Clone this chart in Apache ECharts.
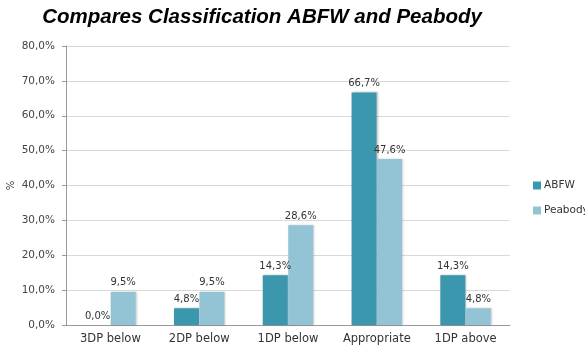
<!DOCTYPE html>
<html>
<head>
<meta charset="utf-8">
<script src="https://cdn.jsdelivr.net/npm/echarts@6/dist/echarts.min.js"></script>
<style>
  html, body { margin: 0; padding: 0; background: #fff; }
  #main { width: 585px; height: 358px; }
</style>
</head>
<body>
<div id="main"></div>
<script>
var categories = ['3DP below', '2DP below', '1DP below', 'Appropriate', '1DP above'];
var abfw = [0.0, 4.8, 14.3, 66.7, 14.3];
var peabody = [9.5, 9.5, 28.6, 47.6, 4.8];
var yTicks = [0, 10, 20, 30, 40, 50, 60, 70, 80];

function pct(v) {
  return Number(v).toFixed(1).replace('.', ',') + '%';
}

var chart = echarts.init(document.getElementById('main'));

var option = {
  animation: false,
  title: {
    text: 'Compares Classification ABFW and Peabody',
    left: 257,
    textAlign: 'center',
    top: 2,
    textStyle: {
      fontFamily: 'Liberation Sans',
      fontStyle: 'italic',
      fontWeight: 'bold',
      fontSize: 20.5,
      color: '#000'
    }
  },
  legend: {
    orient: 'vertical',
    left: 528,
    top: 175,
    itemWidth: 8,
    itemHeight: 8,
    itemGap: 14,
    icon: 'rect',
    textStyle: { fontFamily: 'DejaVu Sans', fontSize: 10.5, color: '#333', padding: [0, 0, 0, -2] },
    data: ['ABFW', 'Peabody']
  },
  grid: { left: 66, right: 75, top: 46, bottom: 33, outerBoundsMode: 'none' },
  xAxis: {
    type: 'category',
    data: categories,
    axisLine: { lineStyle: { color: '#999' } },
    axisTick: { show: false },
    axisLabel: { fontFamily: 'DejaVu Sans', fontSize: 11.5, color: '#333', margin: 8 }
  },
  yAxis: {
    type: 'value',
    min: yTicks[0],
    max: yTicks[yTicks.length - 1],
    interval: 10,
    name: '%',
    nameLocation: 'middle',
    nameGap: 50,
    nameMoveOverlap: false,
    nameTextStyle: { fontFamily: 'DejaVu Sans', fontSize: 10, color: '#333' },
    axisLine: { show: true, lineStyle: { color: '#999' } },
    axisTick: { show: true, length: 4, lineStyle: { color: '#999' } },
    axisLabel: {
      fontFamily: 'DejaVu Sans', fontSize: 10.5, color: '#444', margin: 11,
      formatter: function (v) { return pct(v); }
    },
    splitLine: { lineStyle: { color: '#d9d9d9' } }
  },
  series: [
    {
      name: 'ABFW',
      type: 'bar',
      data: abfw,
      barWidth: 25,
      barGap: '2%',
      itemStyle: { color: '#3a97ad', shadowColor: 'rgba(0,0,0,0.25)', shadowBlur: 2, shadowOffsetX: 1 },
      label: {
        show: true, position: 'top', distance: 4,
        fontFamily: 'DejaVu Sans', fontSize: 10, color: '#333',
        formatter: function (p) { return pct(p.value); }
      }
    },
    {
      name: 'Peabody',
      type: 'bar',
      data: peabody,
      barWidth: 25,
      itemStyle: { color: '#93c4d6', shadowColor: 'rgba(0,0,0,0.2)', shadowBlur: 2, shadowOffsetX: 1 },
      label: {
        show: true, position: 'top', distance: 4,
        fontFamily: 'DejaVu Sans', fontSize: 10, color: '#333',
        formatter: function (p) { return pct(p.value); }
      }
    }
  ]
};

chart.setOption(option);
</script>
</body>
</html>
